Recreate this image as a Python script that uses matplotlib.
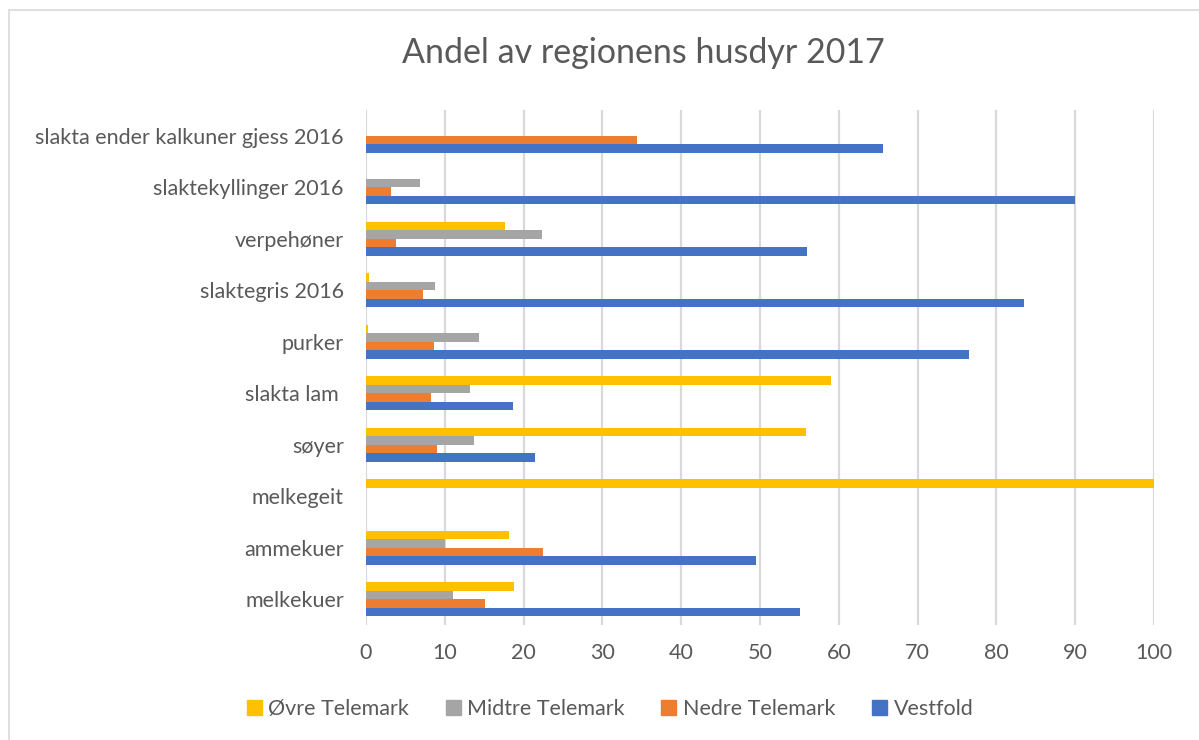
import matplotlib.pyplot as plt
import numpy as np
from matplotlib.patches import Patch, Rectangle

# Kategorier (nederst til øverst)
kategorier = ['melkekuer', 'ammekuer', 'melkegeit', 'søyer', 'slakta lam ',
              'purker', 'slaktegris 2016', 'verpehøner',
              'slaktekyllinger 2016', 'slakta ender kalkuner gjess 2016']

ovre = [18.8, 18.1, 100.0, 55.9, 59.0, 0.3, 0.4, 17.7, 0.0, 0.0]
midtre = [11.1, 10.0, 0.0, 13.7, 13.2, 14.3, 8.8, 22.3, 6.8, 0.0]
nedre = [15.1, 22.4, 0.0, 9.0, 8.3, 8.6, 7.2, 3.8, 3.2, 34.4]
vestfold = [55.1, 49.5, 0.0, 21.4, 18.7, 76.5, 83.5, 56.0, 90.0, 65.6]

serier = ['Øvre Telemark', 'Midtre Telemark', 'Nedre Telemark', 'Vestfold']
farger = ['#FFC000', '#A5A5A5', '#ED7D31', '#4472C4']
tittel = 'Andel av regionens husdyr 2017'
xticks = list(range(0, 101, 10))

plt.rcParams['font.family'] = ['Lato', 'DejaVu Sans']
tekstfarge = '#595959'

fig = plt.figure(figsize=(11.99, 7.40), dpi=100)
ax = fig.add_axes([366 / 1199, 1 - 625 / 740, (1154 - 366) / 1199, (625 - 110) / 740])

# ramme rundt diagrammet
fig.patches.append(Rectangle((9 / 1199, -0.1), 1.2, 1 - 10 / 740 + 0.1,
                             transform=fig.transFigure, fill=False,
                             edgecolor='#D9D9D9', linewidth=1.2))

y = np.arange(len(kategorier))
h = 0.165
for i, (verdier, farge) in enumerate(zip([ovre, midtre, nedre, vestfold], farger)):
    ax.barh(y + (1.5 - i) * h, verdier, height=h, color=farge, zorder=3)

ax.set_xlim(0, 100)
ax.set_ylim(-0.5, len(kategorier) - 0.5)
ax.set_xticks(xticks)
ax.set_yticks(y)
ax.set_yticklabels(kategorier)
ax.grid(axis='x', color='#D9D9D9', linewidth=1.6, zorder=0)
for s in ax.spines.values():
    s.set_visible(False)
ax.tick_params(length=0, labelsize=15.5, colors=tekstfarge)
ax.tick_params(axis='x', pad=13)
ax.tick_params(axis='y', pad=16)

fig.text(643 / 1199, 1 - 53 / 740, tittel, ha='center', va='center',
         fontsize=24.5, color=tekstfarge)

handles = [Patch(color=f) for f in farger]
fig.legend(handles, serier, loc='center', bbox_to_anchor=(610 / 1199, 1 - 709 / 740),
           ncol=4, frameon=False, fontsize=15.5, labelcolor=tekstfarge,
           handlelength=0.7, handleheight=0.7, handletextpad=0.3, columnspacing=1.7)

fig.savefig('out.png', dpi=100)
